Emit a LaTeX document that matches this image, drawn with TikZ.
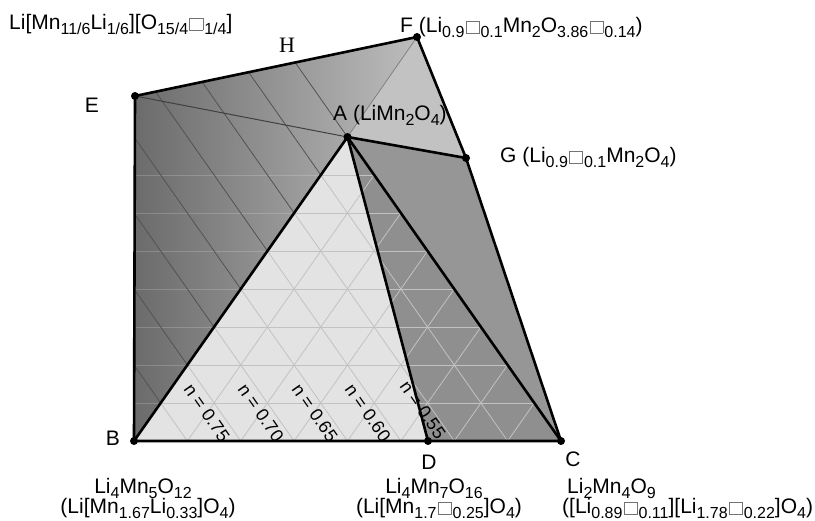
\documentclass[tikz,border=0pt]{standalone}
\usepackage{fontspec}
\setmainfont{Liberation Sans}
\newfontfamily\hfont{Liberation Serif}
\newcommand\vac{{\color{black!55}\setlength\fboxrule{0.6pt}\setlength\fboxsep{0pt}\hspace{0.06em}\fbox{\rule{0pt}{0.56em}\hspace{0.6em}}\hspace{0.05em}}}
\newcommand\sbs[1]{\raisebox{-0.2em}{\fontsize{16}{16}\selectfont #1}}
\begin{document}
\begin{tikzpicture}[x=1pt,y=-1pt,
  every node/.style={font=\fontsize{21}{24}\selectfont, inner sep=0pt},
  edge/.style={line width=2.6pt, line join=round, line cap=round},
  thinedge/.style={line width=1pt, black!75},
  darkiso/.style={line width=0.8pt, black!68},
  gridl/.style={line width=0.8pt, black!24},
  faint/.style={line width=0.8pt, white, opacity=0.18},
  dot/.style={circle, fill=black, minimum size=8pt, inner sep=0pt},
  nlab/.style={font=\fontsize{18}{20}\selectfont, rotate=-55}]
\useasboundingbox (0,0) rectangle (815,521);
\coordinate (B) at (134,441);
\coordinate (C) at (561,441);
\coordinate (A) at (347.5,137);
\coordinate (D) at (428,441);
\coordinate (E) at (135,96);
\coordinate (F) at (417,37);
\coordinate (G) at (466,158);
% fills
\shade[left color=black!58, right color=black!26] (E) -- (B) -- (A) -- (F) -- cycle;
\fill[black!11] (B) -- (A) -- (D) -- cycle;
\fill[black!44] (A) -- (D) -- (C) -- cycle;
\fill[black!41] (A) -- (C) -- (G) -- cycle;
\fill[black!24] (A) -- (G) -- (F) -- cycle;
% faint horizontal lines in dark region
\begin{scope}
\clip (E) -- (B) -- (A) -- cycle;
\foreach \k in {1,...,7} \draw[faint] (134,441-38*\k) -- (560,441-38*\k);
\end{scope}
% dark isolines
\begin{scope}
\clip (E) -- (B) -- (A) -- (F) -- cycle;
\foreach \k in {1,...,8} \draw[darkiso] (134+53.375*\k,441) -- ++(-26.6875*14,-38*14);
\end{scope}
% grid in triangle BAC
\begin{scope}
\clip (B) -- (A) -- (C) -- cycle;
\foreach \k in {1,...,7} {
  \draw[gridl] (134,441-38*\k) -- (561,441-38*\k);
  \draw[gridl] (134+53.375*\k,441) -- ++(26.6875*9,-38*9);
  \draw[gridl] (134+53.375*\k,441) -- ++(-26.6875*9,-38*9);
}
\end{scope}
% n labels
\node[nlab] (n75) at (207,413) {n = 0.75};
\node[nlab] (n70) at (261,413) {n = 0.70};
\node[nlab] (n65) at (315,413) {n = 0.65};
\node[nlab] (n60) at (368,413) {n = 0.60};
\node[nlab] (n55) at (423,410) {n = 0.55};
% thin lines
\draw[thinedge] (E) -- (A);
\draw[line width=0.8pt, black!50] (A) -- (F);
% thick lines
\draw[edge] (E) -- (F) -- (G) -- (C) -- (B) -- cycle;
\draw[edge] (B) -- (A) -- (G);
\draw[edge] (A) -- (D);
\draw[edge] (A) -- (C);
% dots
\foreach \p in {A,B,C,D,E,F,G} \node[dot] at (\p) {};
% labels
\node[anchor=base west] (lE2) at (9,30) {Li[Mn\sbs{11/6}Li\sbs{1/6}][O\sbs{15/4}\vac\sbs{1/4}]};
\node[font=\hfont\fontsize{22}{24}\selectfont] (lH) at (287,45) {H};
\node (lE) at (92,105) {E};
\node[anchor=base west] (lF) at (400,33) {F (Li\sbs{0.9}\vac\sbs{0.1}Mn\sbs{2}O\sbs{3.86}\vac\sbs{0.14})};
\node[anchor=base west] (lA) at (333,121) {A (LiMn\sbs{2}O\sbs{4})};
\node[anchor=base west] (lG) at (500,163) {G (Li\sbs{0.9}\vac\sbs{0.1}Mn\sbs{2}O\sbs{4})};
\node (lB) at (113,438) {B};
\node (lD) at (429,462) {D};
\node (lC) at (573,459) {C};
\node[anchor=base] (lB1) at (143,494) {Li\sbs{4}Mn\sbs{5}O\sbs{12}};
\node[anchor=base] (lB2) at (148,514) {(Li[Mn\sbs{1.67}Li\sbs{0.33}]O\sbs{4})};
\node[anchor=base] (lD1) at (434,494) {Li\sbs{4}Mn\sbs{7}O\sbs{16}};
\node[anchor=base] (lD2) at (439,514) {(Li[Mn\sbs{1.7}\vac\sbs{0.25}]O\sbs{4})};
\node[anchor=base west] (lC1) at (567,494) {Li\sbs{2}Mn\sbs{4}O\sbs{9}};
\node[anchor=base west] (lC2) at (562,514) {([Li\sbs{0.89}\vac\sbs{0.11}][Li\sbs{1.78}\vac\sbs{0.22}]O\sbs{4})};
\end{tikzpicture}
\end{document}
